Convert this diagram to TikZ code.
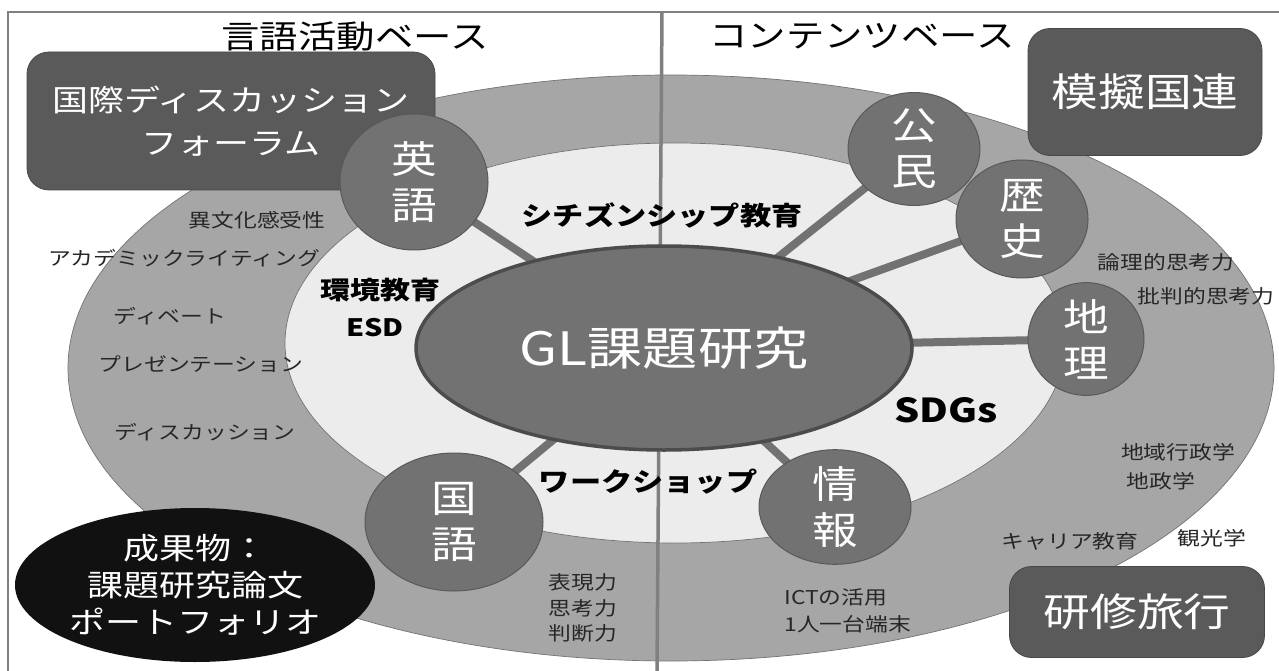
\documentclass[tikz,border=0pt]{standalone}
\usepackage{fontspec}
\setmainfont[FakeStretch=1.2]{Noto Sans CJK JP}
\usetikzlibrary{shapes.geometric}
\pgfdeclarelayer{back}
\pgfdeclarelayer{mid}
\pgfsetlayers{back,mid,main}
\definecolor{outerg}{HTML}{A6A6A6}
\definecolor{innerg}{HTML}{ECECEC}
\definecolor{circg}{HTML}{727272}
\definecolor{circb}{HTML}{595959}
\definecolor{boxg}{HTML}{5A5A5A}
\definecolor{lineg}{HTML}{808080}
\definecolor{blk}{HTML}{111111}
\newcommand{\fs}[1]{\fontsize{#1}{\dimexpr #1pt*6/5\relax}\selectfont}
\tikzset{
  subj/.style={ellipse, fill=circg, draw=circb, line width=1pt, text=white, align=center, font=\fontsize{38}{46}\selectfont, inner sep=0pt},
  conn/.style={draw=circg, line width=8pt},
  darkbox/.style={rounded corners=22pt, fill=boxg, draw=boxg!80!black, line width=0.8pt, text=white, align=center},
  small/.style={font=\fs{19}, text=black!85},
  boldlbl/.style={font=\bfseries\fs{26}, text=black},
}
\begin{document}
\begin{tikzpicture}[x=1pt,y=-1pt]
\clip (0,0) rectangle (1279,671);
\begin{pgfonlayer}{back}
\fill[white] (0,0) rectangle (1279,671);
\draw[lineg, line width=2.5pt] (8,12) rectangle (1295,690);
\fill[outerg, draw=black!55, line width=0.7pt] (671,368) ellipse [x radius=603pt, y radius=293pt];
\fill[innerg, draw=black!55, line width=0.7pt] (675,343) ellipse [x radius=390pt, y radius=200pt];
\coordinate (dtop) at (662,12);
\coordinate (dbot) at (657,671);
\draw[lineg, line width=3.5pt] (dtop) -- (dbot);
\end{pgfonlayer}
% titles
\node (t1) at (355,36) {\fs{32}言語活動ベース};
\node (t2) at (862,36) {\fs{32}コンテンツベース};
% boxes
\node[darkbox, minimum width=408pt, minimum height=138pt, font=\fontsize{30}{43}\selectfont] (forum) at (231,121) {国際ディスカッション\\フォーラム};
\node[darkbox, minimum width=234pt, minimum height=127pt, font=\fs{39}] (mun) at (1145,92) {模擬国連};
\node[darkbox, minimum width=255pt, minimum height=91pt, font=\fs{39}] (trip) at (1137,612) {研修旅行};
\node[ellipse, fill=blk, minimum width=360pt, minimum height=154pt, text=white, align=center, font=\fontsize{30}{37}\selectfont, inner sep=0pt] (prod) at (195,585) {成果物：\\課題研究論文\\ポートフォリオ};
% central node and subjects
\node[ellipse, minimum width=496pt, minimum height=204pt, fill=circg, draw=black!70, line width=3.5pt, text=white, font=\fs{46}, inner sep=0pt] (gl) at (664,348) {GL課題研究};
\node[subj, minimum width=148pt, minimum height=136pt] (eng) at (414,182) {英\\語};
\node[subj, minimum width=132pt, minimum height=112pt] (civ) at (914,149) {公\\民};
\node[subj, minimum width=132pt, minimum height=118pt] (his) at (1022,219) {歴\\史};
\node[subj, minimum width=116pt, minimum height=98pt] (geo) at (1086,339) {地\\理};
\node[subj, minimum width=152pt, minimum height=114pt] (inf) at (835,507) {情\\報};
\node[subj, minimum width=178pt, minimum height=138pt] (jpn) at (454,522) {国\\語};
\begin{pgfonlayer}{mid}
\draw[conn] (gl.center) -- (eng.center);
\draw[conn] (gl.center) -- (civ.center);
\draw[conn] (gl.center) -- (his.center);
\draw[conn] (gl.center) -- (geo.center);
\draw[conn] (gl.center) -- (inf.center);
\draw[conn] (gl.center) -- (jpn.center);
\end{pgfonlayer}
% bold labels
\node[boldlbl] (cit) at (662,215) {シチズンシップ教育};
\node[boldlbl, font=\bfseries\fs{25}] (env) at (380,290) {環境教育};
\node[boldlbl, font=\bfseries\fs{24}] (esd) at (375,328) {ESD};
\node[boldlbl, font=\bfseries\fs{33}] (sdg) at (946,410) {SDGs};
\node[boldlbl] (ws) at (648,482) {ワークショップ};
% small labels
\node[small] (a1) at (257,220) {異文化感受性};
\node[small] (a2) at (184,258) {アカデミックライティング};
\node[small] (a3) at (170,316) {ディベート};
\node[small] (a4) at (201,364) {プレゼンテーション};
\node[small] (a5) at (205,432) {ディスカッション};
\node[small] (b1) at (1166,262) {論理的思考力};
\node[small] (b2) at (1206,296) {批判的思考力};
\node[small] (b3) at (1178,452) {地域行政学};
\node[small] (b4) at (1161,481) {地政学};
\node[small] (b5) at (1070,541) {キャリア教育};
\node[small] (b6) at (1212,538) {観光学};
\node[small, align=left, font=\fontsize{19}{25.5}\selectfont] (c1) at (583,608) {表現力\\思考力\\判断力};
\node[small, anchor=west] (d1) at (781,597) {ICTの活用};
\node[small, anchor=west] (d2) at (781,624) {1人一台端末};
\end{tikzpicture}
\end{document}
